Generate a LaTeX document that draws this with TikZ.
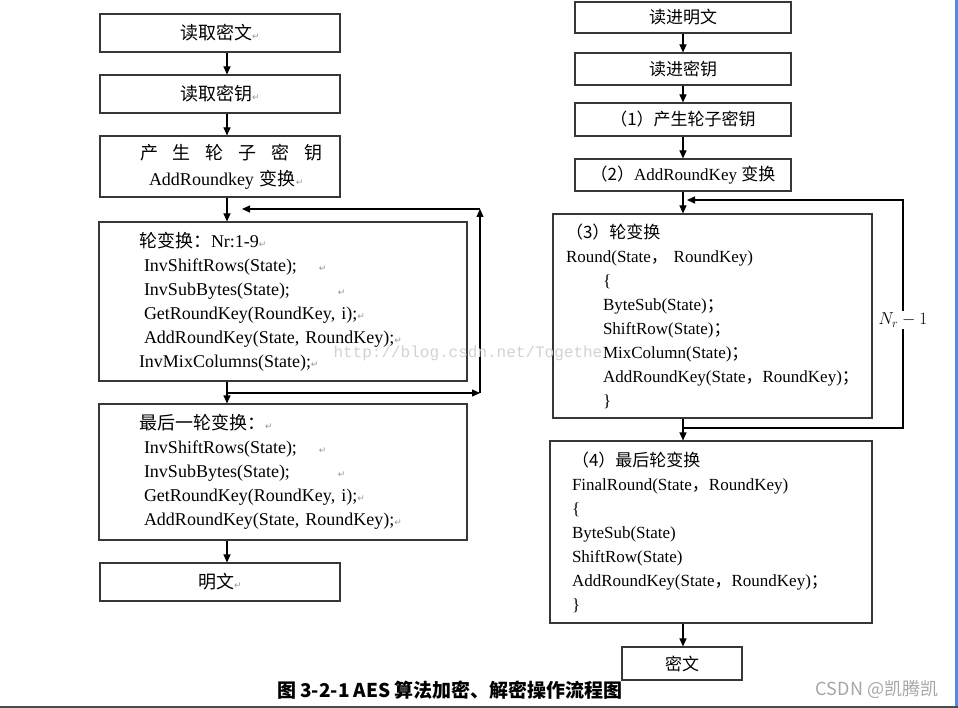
\documentclass[tikz,border=0pt]{standalone}
\usepackage{fontspec}
\setmainfont{Liberation Serif}
\newfontfamily\cjk{Noto Sans CJK SC}
\newfontfamily\symfont{DejaVu Sans}
\newfontfamily\wmfont{Liberation Mono}
\usepackage{xcolor}
\definecolor{boxline}{RGB}{55,55,55}
\definecolor{markgray}{RGB}{150,150,150}
\definecolor{wmgray}{RGB}{210,210,210}
\definecolor{edgeblue}{RGB}{80,140,230}
\usetikzlibrary{arrows.meta, positioning, calc}

\newcommand{\zh}[1]{{\cjk #1}}
\newcommand{\ret}{{\symfont\fontsize{9}{9}\selectfont\textcolor{markgray}{↵}}}

\begin{document}
\begin{tikzpicture}[x=1pt, y=-1pt,
  plainbox/.style={draw=boxline, line width=1.1pt, fill=white, inner sep=0pt,
                   font=\fontsize{18}{20}\selectfont},
  plainboxR/.style={plainbox, font=\fontsize{17}{20}\selectfont, minimum width=216pt},
  codebox/.style={plainbox, align=left, font=\fontsize{18}{24}\selectfont},
  codeboxR/.style={plainbox, align=left, font=\fontsize{17}{24}\selectfont},
  arr/.style={-{Triangle[length=8pt, width=7pt]}, line width=1.1pt, black}]

\useasboundingbox (0,0) rectangle (958,708);

% === Left: decryption ===
\node[plainbox, minimum width=240pt, minimum height=38pt] (ct) at (220,33) {\zh{读取密文}\ret};
\node[plainbox, minimum width=240pt, minimum height=38pt] (key) at (220,94) {\zh{读取密钥}\ret};

\node[codebox, text width=240pt, minimum height=61pt,
      font=\fontsize{18}{26}\selectfont] (rk) at (220,166.5)
     {\hspace*{40pt}\zh{产\hspace{15pt}生\hspace{15pt}轮\hspace{15pt}子\hspace{15pt}密\hspace{15pt}钥}\\
      \hspace*{49pt}AddRoundkey \zh{变换}\ret};

\node[codebox, text width=288pt, inner xsep=40pt, minimum height=159pt] (rnd) at (283,301.5)
     {\zh{轮变换：}Nr:1-9\ret\\
      \hspace*{5pt}InvShiftRows(State);\hspace{22pt}\ret\\
      \hspace*{5pt}InvSubBytes(State);\hspace{48pt}\ret\\
      \hspace*{5pt}GetRoundKey(RoundKey, i);\ret\\
      \hspace*{5pt}AddRoundKey(State, RoundKey);\ret\\
      InvMixColumns(State);\ret};

\node[codebox, text width=288pt, inner xsep=40pt, minimum height=136pt] (fin) at (283,472)
     {\zh{最后一轮变换：}\ret\\
      \hspace*{5pt}InvShiftRows(State);\hspace{22pt}\ret\\
      \hspace*{5pt}InvSubBytes(State);\hspace{48pt}\ret\\
      \hspace*{5pt}GetRoundKey(RoundKey, i);\ret\\
      \hspace*{5pt}AddRoundKey(State, RoundKey);\ret};

\node[plainbox, minimum width=240pt, minimum height=38pt] (pt) at (220,582) {\zh{明文}\ret};

% arrows, left column
\coordinate (colL) at (227,0);
\coordinate (loopL) at (480,0);
\coordinate (jL) at (227,209);
\coordinate (sL) at (227,393);
\draw[arr] (ct.south -| colL) -- (key.north -| colL);
\draw[arr] (key.south -| colL) -- (rk.north -| colL);
\draw[arr] (rk.south -| colL) -- (rnd.north -| colL);
\draw[arr] (rnd.south -| colL) -- (fin.north -| colL);
\draw[arr] (fin.south -| colL) -- (pt.north -| colL);

% loop back, left
\draw[arr] (sL) -- (sL -| loopL);
\draw[arr] (sL -| loopL) -- (jL -| loopL);
\draw[arr] (jL -| loopL) -- ([xshift=15pt]jL);

% === Right: encryption ===
\node[plainboxR, minimum height=31pt] (ptR) at (683,17.5) {\zh{读进明文}};
\node[plainboxR, minimum height=32pt] (keyR) at (683,69) {\zh{读进密钥}};
\node[plainboxR, minimum height=33pt] (rkR) at (683,119.5) {\zh{（1）产生轮子密钥}};
\node[plainboxR, minimum height=32pt] (arkR) at (683,175) {\zh{（2）}AddRoundKey \zh{变换}};

\node[codeboxR, text width=293pt, inner xsep=13pt, minimum height=204pt] (rndR) at (712.5,316)
     {\zh{（3）轮变换}\\
      Round(State\zh{，} RoundKey)\\
      \hspace*{37pt}\{\\
      \hspace*{37pt}ByteSub(State)\zh{；}\\
      \hspace*{37pt}ShiftRow(State)\zh{；}\\
      \hspace*{37pt}MixColumn(State)\zh{；}\\
      \hspace*{37pt}AddRoundKey(State\zh{，}RoundKey)\zh{；}\\
      \hspace*{37pt}\}};

\node[codeboxR, text width=278pt, inner xsep=22pt, minimum height=182pt] (finR) at (711,532)
     {\zh{（4）最后轮变换}\\
      FinalRound(State\zh{，}RoundKey)\\
      \{\\
      ByteSub(State)\\
      ShiftRow(State)\\
      AddRoundKey(State\zh{，}RoundKey)\zh{；}\\
      \}};

\node[plainboxR, minimum width=120pt, minimum height=33pt] (ctR) at (682,663.5) {\zh{密文}};

% arrows, right column
\coordinate (colR) at (683,0);
\coordinate (loopR) at (903,0);
\coordinate (jR) at (683,200);
\coordinate (sR) at (683,428);
\draw[arr] (ptR.south) -- (keyR.north);
\draw[arr] (keyR.south) -- (rkR.north);
\draw[arr] (rkR.south) -- (arkR.north);
\draw[arr] (arkR.south) -- (rndR.north -| colR);
\draw[arr] (rndR.south -| colR) -- (finR.north -| colR);
\draw[arr] (finR.south -| colR) -- (ctR.north -| colR);

% loop back, right
\draw[arr] (sR) -| (jR -| loopR) -- ([xshift=4pt]jR);
\node[fill=white, inner sep=2pt, font=\fontsize{18}{20}\selectfont] (nr) at (903,320) {$N_r-1$};

% watermark
\node[anchor=west, text=wmgray, font=\wmfont\fontsize{16}{16}\selectfont] (wm) at (330,353)
     {http://blog.csdn.net/Togethe};

% === Caption ===
\node[font=\cjk\bfseries\fontsize{19}{20}\selectfont] (cap) at (450,690)
     {图 3-2-1 AES 算法加密、解密操作流程图};
\node[text=black!35, font=\cjk\fontsize{18}{20}\selectfont] (csdn) at (877,690) {CSDN @凯腾凯};

% screen edges
\fill[edgeblue] (955,0) rectangle (958,708);
\draw[black!70, line width=1.5pt] (0,707) -- (958,707);

\end{tikzpicture}
\end{document}
